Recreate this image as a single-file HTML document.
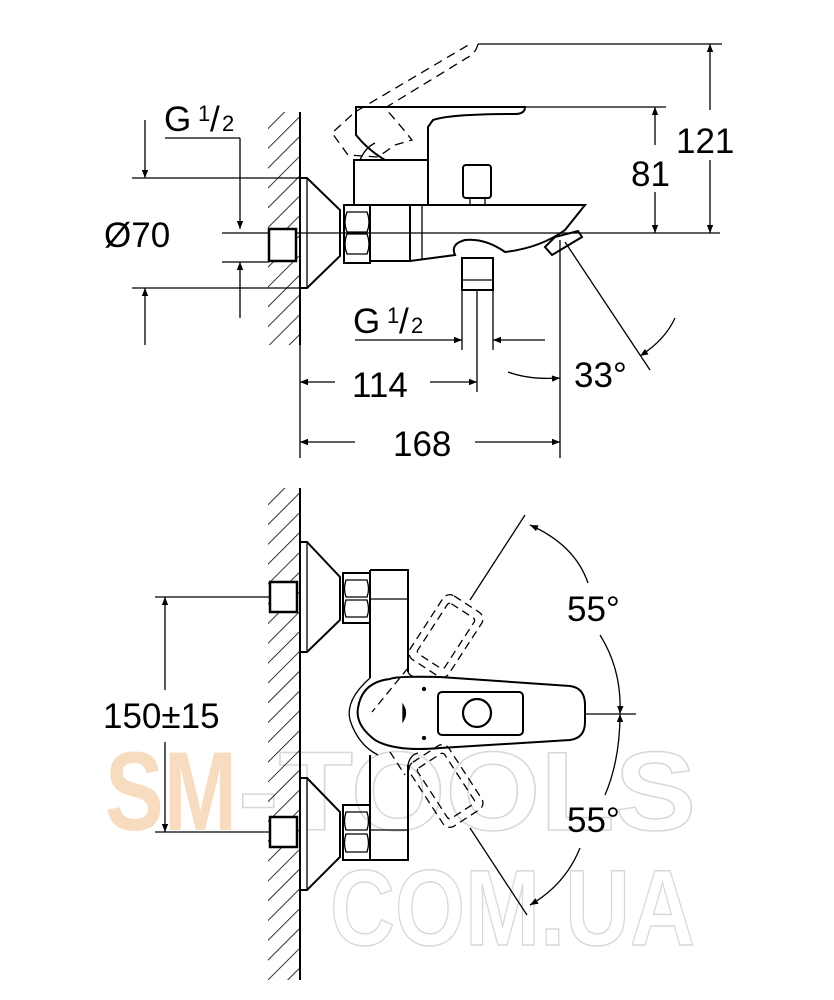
<!DOCTYPE html>
<html><head><meta charset="utf-8"><style>
html,body{margin:0;padding:0;background:#fff;}
svg{display:block;font-family:"Liberation Sans",Arial,sans-serif;}
</style></head><body>
<svg width="834" height="1000" viewBox="0 0 834 1000" xmlns="http://www.w3.org/2000/svg">
<defs>
<pattern id="h" width="14" height="14" patternUnits="userSpaceOnUse" patternTransform="rotate(45)">
<line x1="0" y1="0" x2="0" y2="14" stroke="#000" stroke-width="1.6"/>
</pattern>
<marker id="a" viewBox="0 0 10 10" refX="10" refY="5" markerWidth="14" markerHeight="8" markerUnits="userSpaceOnUse" orient="auto-start-reverse">
<path d="M0,1 L10,5 L0,9 z" fill="#000"/>
</marker>
</defs>

<!-- watermark -->
<text x="105" y="830" font-size="112" font-weight="bold" fill="#f7dcc0" textLength="132" lengthAdjust="spacingAndGlyphs">SM</text>
<text x="238" y="830" font-size="112" font-weight="bold" fill="none" stroke="#d8d8d8" stroke-width="1.5" textLength="458" lengthAdjust="spacingAndGlyphs">-TOOLS</text>
<text x="330" y="945" font-size="108" font-weight="bold" fill="none" stroke="#d8d8d8" stroke-width="1.5" textLength="365" lengthAdjust="spacingAndGlyphs">COM.UA</text>

<g fill="none" stroke="#000" stroke-width="1.3">
<!-- ========== TOP VIEW ========== -->
<rect x="268" y="112" width="32" height="233" fill="url(#h)" stroke="none"/>
<line x1="300" y1="112" x2="300" y2="345" stroke-width="2"/>
<line x1="222" y1="233" x2="720" y2="233"/>
<line x1="132" y1="178" x2="300" y2="178"/>
<line x1="132" y1="288" x2="300" y2="288"/>
<path d="M300,178 H307 L340,210 V256 L307,288 H300" stroke-width="2"/>
<line x1="307" y1="178" x2="307" y2="288"/>
<rect x="269" y="229" width="27" height="32" stroke-width="2.5" fill="#fff"/>
<rect x="344" y="205" width="26" height="58" stroke-width="2"/>
<path d="M347,212 q-4,10 0,20 h20 q4,-10 0,-20 z M347,234 q-4,10 0,20 h20 q4,-10 0,-20 z"/>
<rect x="370" y="205" width="40" height="56" stroke-width="2"/>
<path d="M410,205 H585 L565,230 Q540,248 505,252 Q485,238 465,240 Q450,244 455,255 L440,257 L410,261 Z" stroke-width="2"/>
<line x1="422" y1="205" x2="422" y2="259"/>
<path d="M545,247 l10,-10 l23,-6 l4,6 l-30,18 z" stroke-width="2"/>
<rect x="354" y="160" width="74" height="45" stroke-width="2"/>
<path d="M356,107 H525 Q525,114 515,114 Q450,114 433,120 L428,127 V160 H385 Q368,150 356,135 Z" stroke-width="2"/>
<path d="M360,160 q5,-12 15,-17"/>
<path d="M478,44 Q476,52 470,56 L385,108 Q400,125 412,140 L395,145 L378,157 L348,155 L332,133 L355,112 L470,44" stroke-dasharray="9,6"/>
<rect x="463" y="165" width="28" height="33" rx="3" stroke-width="2"/>
<line x1="470" y1="198" x2="470" y2="205"/><line x1="485" y1="198" x2="485" y2="205"/>
<rect x="462" y="258" width="31" height="32" stroke-width="2"/>
<line x1="462" y1="280" x2="493" y2="280"/>
<line x1="462" y1="290" x2="462" y2="350"/><line x1="493" y1="290" x2="493" y2="350"/>
<line x1="477" y1="290" x2="477" y2="392"/>
<line x1="478" y1="44" x2="722" y2="44"/>
<line x1="525" y1="107" x2="666" y2="107"/>
<line x1="300" y1="345" x2="300" y2="458"/>
<line x1="560" y1="240" x2="560" y2="458"/>
<line x1="565" y1="242" x2="650" y2="370"/>
<line x1="710" y1="44" x2="710" y2="110" marker-start="url(#a)"/>
<line x1="710" y1="160" x2="710" y2="233" marker-end="url(#a)"/>
<line x1="655" y1="107" x2="655" y2="145" marker-start="url(#a)"/>
<line x1="655" y1="192" x2="655" y2="233" marker-end="url(#a)"/>
<line x1="145" y1="120" x2="145" y2="178" marker-end="url(#a)"/>
<line x1="145" y1="345" x2="145" y2="288" marker-end="url(#a)"/>
<line x1="165" y1="138" x2="240" y2="138"/>
<line x1="240" y1="138" x2="240" y2="229" marker-end="url(#a)"/>
<line x1="240" y1="318" x2="240" y2="262" marker-end="url(#a)"/>
<line x1="222" y1="262" x2="269" y2="262"/>
<line x1="355" y1="340" x2="462" y2="340" marker-end="url(#a)"/>
<line x1="545" y1="340" x2="493" y2="340" marker-end="url(#a)"/>
<line x1="335" y1="382" x2="300" y2="382" marker-end="url(#a)"/>
<line x1="430" y1="382" x2="477" y2="382" marker-end="url(#a)"/>
<path d="M508,372 Q530,380 560,378" marker-end="url(#a)"/>
<line x1="355" y1="442" x2="300" y2="442" marker-end="url(#a)"/>
<line x1="475" y1="442" x2="560" y2="442" marker-end="url(#a)"/>
<path d="M675,318 Q665,340 640,356" marker-end="url(#a)"/>

<!-- ========== BOTTOM VIEW ========== -->
<rect x="268" y="488" width="32" height="492" fill="url(#h)" stroke="none"/>
<line x1="300" y1="488" x2="300" y2="980" stroke-width="2"/>
<path d="M300,542 H307 L340,577 V620 L307,652 H300" stroke-width="2"/>
<line x1="307" y1="542" x2="307" y2="652"/>
<path d="M300,778 H307 L340,812 V857 L307,890 H300" stroke-width="2"/>
<line x1="307" y1="778" x2="307" y2="890"/>
<rect x="270" y="582" width="27" height="30" stroke-width="2.5" fill="#fff"/>
<rect x="270" y="817" width="27" height="30" stroke-width="2.5" fill="#fff"/>
<rect x="343" y="573" width="27" height="50" stroke-width="2"/>
<path d="M346,580 q-3,9 0,17 h21 q3,-8 0,-17 z M346,600 q-3,9 0,17 h21 q3,-8 0,-17 z"/>
<rect x="343" y="805" width="27" height="55" stroke-width="2"/>
<path d="M346,812 q-3,9 0,18 h21 q3,-9 0,-18 z M346,834 q-3,9 0,18 h21 q3,-9 0,-18 z"/>
<path d="M370,570 H408 V672 M370,570 V678 M370,755 V860 H408 V765" stroke-width="2"/>
<line x1="370" y1="599" x2="408" y2="599"/>
<line x1="370" y1="830" x2="408" y2="830"/>
<path d="M370,678 Q345,700 350,720 Q358,745 378,755"/>
<path d="M408,672 Q410,677 418,677 M408,765 Q410,755 418,753"/>
<path d="M390,679 Q395,676 440,677 L570,686 Q585,688 585,705 V722 Q585,738 570,740 L440,748 Q395,752 375,740 Q355,725 358,708 Q362,682 390,679 Z" stroke-width="2"/>
<rect x="438" y="692" width="85" height="43" rx="4" stroke-width="2"/>
<circle cx="477" cy="713" r="14" stroke-width="2.2"/>
<path d="M403,705 q5,8 0,16 z" fill="#000"/>
<circle cx="424" cy="689" r="1.5" fill="#000"/><circle cx="424" cy="738" r="1.5" fill="#000"/>
<line x1="585" y1="714" x2="636" y2="714"/>
<!-- dashed levers -->
<g stroke-dasharray="8,5">
<g transform="translate(446,636) rotate(33)">
<rect x="-23" y="-38" width="46" height="76" rx="8"/>
<rect x="-16" y="-30" width="32" height="60" rx="3"/>
</g>
<g transform="translate(446,786) rotate(-33)">
<rect x="-23" y="-38" width="46" height="76" rx="8"/>
<rect x="-16" y="-30" width="32" height="60" rx="3"/>
</g>
<path d="M408,668 L372,712"/>
<path d="M390,752 L405,775"/>
</g>
<line x1="470" y1="600" x2="525" y2="515"/>
<line x1="470" y1="828" x2="527" y2="915"/>
<path d="M530,525 Q575,545 588,583" marker-start="url(#a)"/>
<path d="M600,635 Q622,670 620,714" marker-end="url(#a)"/>
<path d="M620,714 Q620,760 605,795" marker-start="url(#a)"/>
<path d="M580,848 Q565,885 530,905" marker-end="url(#a)"/>
<line x1="155" y1="597" x2="270" y2="597"/>
<line x1="155" y1="832" x2="270" y2="832"/>
<line x1="165" y1="690" x2="165" y2="597" marker-end="url(#a)"/>
<line x1="165" y1="742" x2="165" y2="832" marker-end="url(#a)"/>
</g>

<g fill="#000" font-size="35">
<text x="676" y="153">121</text>
<text x="631" y="186">81</text>
<text x="104" y="247">Ø70</text>
<text x="164" y="131">G</text><text x="198" y="121" font-size="22">1</text><text x="210" y="131">/</text><text x="222" y="131" font-size="22">2</text>
<text x="353" y="333">G</text><text x="387" y="323" font-size="22">1</text><text x="399" y="333">/</text><text x="411" y="333" font-size="22">2</text>
<text x="352" y="397">114</text>
<text x="393" y="456">168</text>
<text x="574" y="387">33°</text>
<text x="567" y="621">55°</text>
<text x="567" y="832">55°</text>
<text x="103" y="728">150±15</text>
</g>
</svg>
</body></html>
